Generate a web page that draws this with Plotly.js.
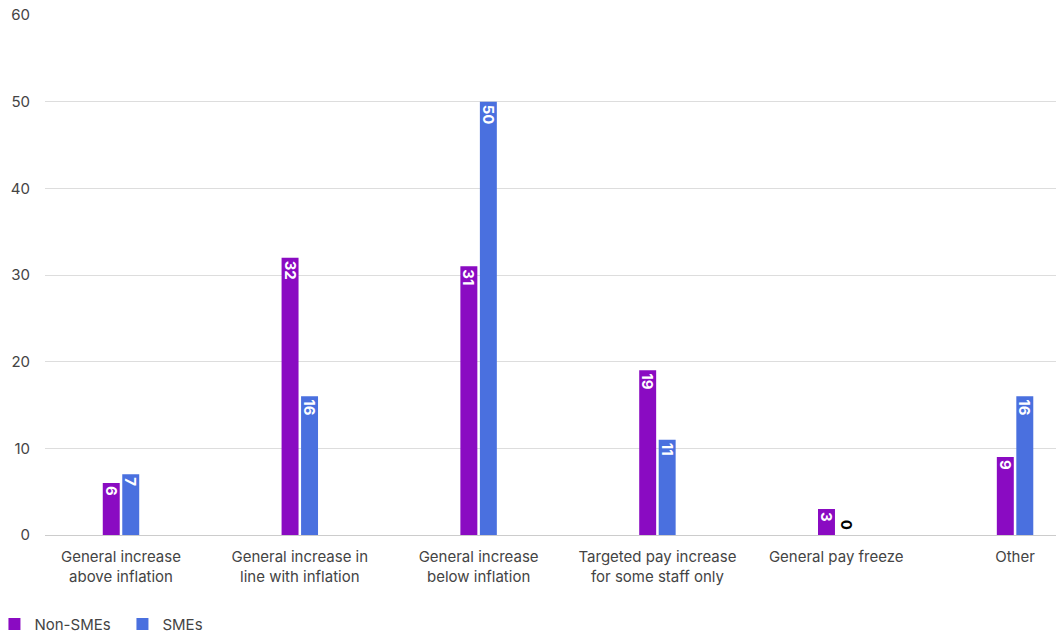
<!DOCTYPE html>
<html>
<head>
<meta charset="utf-8">
<script src="https://cdn.plot.ly/plotly-3.0.1.min.js"></script>
<style>
  html, body { margin: 0; padding: 0; background: #fff; }
  #chart { width: 1056px; height: 635px; }
</style>
</head>
<body>
<div id="chart"></div>
<script>
// Pay award approach, % of employers
const categories = [
  'General increase<br>above inflation',
  'General increase in<br>line with inflation',
  'General increase<br>below inflation',
  'Targeted pay increase<br>for some staff only',
  'General pay freeze',
  'Other'
];
const nonSmes = [6, 32, 31, 19, 3, 9];
const smes = [7, 16, 50, 11, 0, 16];
const seriesNames = ['Non-SMEs', 'SMEs'];
const yTicks = [0, 10, 20, 30, 40, 50, 60];

const FONT = 'Inter, "Noto Sans", Roboto, sans-serif';
const COLORS = ['#8A0BC2', '#4A70DF'];

function barTrace(name, values, color) {
  return {
    type: 'bar',
    name: name,
    x: categories,
    y: values,
    marker: { color: color },
    text: values.map(String),
    textposition: 'inside',
    textangle: 90,
    insidetextanchor: 'end',
    constraintext: 'none',
    insidetextfont: { family: FONT, size: 15, color: '#ffffff', weight: 'bold' },
    hoverinfo: 'skip'
  };
}

const data = [
  barTrace(seriesNames[0], nonSmes, COLORS[0]),
  barTrace(seriesNames[1], smes, COLORS[1])
];

// Zero-height bars have no body to hold a label, so their value is written just above the axis
const zeroLabels = [];
[nonSmes, smes].forEach((values, s) => {
  values.forEach((v, i) => {
    if (v === 0) {
      zeroLabels.push({
        x: categories[i],
        y: v,
        xref: 'x',
        yref: 'y',
        xshift: s === 0 ? -11 : 11,
        yanchor: 'bottom',
        yshift: 3,
        text: String(v),
        textangle: 90,
        showarrow: false,
        font: { family: FONT, size: 15, color: '#000000', weight: 'bold' }
      });
    }
  });
});

const layout = {
  width: 1056,
  height: 635,
  margin: { l: 45, r: 0, t: 15, b: 100, autoexpand: false },
  paper_bgcolor: '#ffffff',
  plot_bgcolor: '#ffffff',
  font: { family: FONT, size: 15, color: '#444444' },
  barmode: 'group',
  bargap: 0.782,
  bargroupgap: 0.13,
  showlegend: true,
  legend: {
    orientation: 'h',
    xref: 'paper',
    x: -0.05,
    xanchor: 'left',
    yref: 'container',
    y: 0.017,
    yanchor: 'middle',
    font: { family: FONT, size: 15, color: '#444444' },
    itemwidth: 30,
    entrywidth: 83,
    traceorder: 'normal'
  },
  annotations: zeroLabels,
  xaxis: {
    type: 'category',
    range: [-0.425, 5.229],
    showgrid: false,
    zeroline: false,
    showline: false,
    ticks: '',
    ticklabelstandoff: 11,
    tickfont: { family: FONT, size: 15, color: '#444444' },
    fixedrange: true
  },
  yaxis: {
    range: [0, 60],
    tickvals: yTicks,
    ticktext: yTicks.map(String),
    showgrid: true,
    gridcolor: '#dddddd',
    gridwidth: 1,
    zeroline: true,
    zerolinecolor: '#cccccc',
    zerolinewidth: 1,
    showline: false,
    ticks: '',
    ticklabelstandoff: 14,
    tickfont: { family: FONT, size: 15, color: '#444444' },
    fixedrange: true
  }
};

Plotly.newPlot('chart', data, layout, { displayModeBar: false, staticPlot: true });
</script>
</body>
</html>
